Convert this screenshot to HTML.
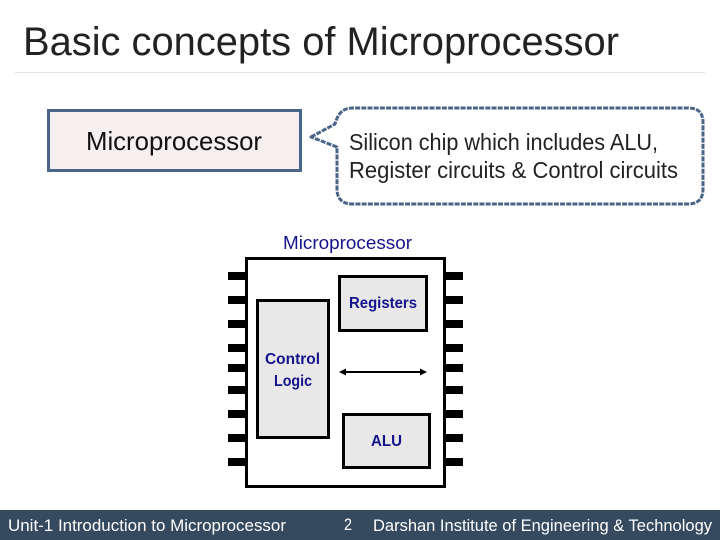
<!DOCTYPE html>
<html><head><meta charset="utf-8"><style>
html,body{margin:0;padding:0;background:#fff}
svg{display:block}
text{font-family:"Liberation Sans",sans-serif}
</style></head><body>
<svg width="720" height="540" viewBox="0 0 720 540" xmlns="http://www.w3.org/2000/svg">
<rect width="720" height="540" fill="#fff"/>
<text x="23" y="55" font-size="40" fill="#222" textLength="596" lengthAdjust="spacingAndGlyphs">Basic concepts of Microprocessor</text>
<line x1="15" y1="72.5" x2="705" y2="72.5" stroke="#e2e2e2" stroke-width="1"/>
<rect x="48.500" y="110.500" width="252" height="60" fill="#f5eff0" stroke="#4a6587" stroke-width="3"/>
<text x="86" y="150" font-size="26" fill="#111" textLength="176" lengthAdjust="spacingAndGlyphs">Microprocessor</text>
<path d="M311 137 L335 124 C338 114 342 108 353 108 L688 108 Q703 108 703 122 L703 189 Q703 204 688 204 L353 204 Q337 204 337 189 L337 147 Z" fill="#fff" stroke="#4a6587" stroke-width="3" stroke-dasharray="5 1.200" stroke-linejoin="round"/>
<text x="349" y="150" font-size="23" fill="#222" textLength="309" lengthAdjust="spacingAndGlyphs">Silicon chip which includes ALU,</text>
<text x="349" y="178" font-size="23" fill="#222" textLength="329" lengthAdjust="spacingAndGlyphs">Register circuits &amp; Control circuits</text>
<text x="283" y="249" font-size="18" fill="#14148c" textLength="129" lengthAdjust="spacingAndGlyphs">Microprocessor</text>
<g fill="#000">
<rect x="228" y="272" width="18" height="8"/><rect x="228" y="296" width="18" height="8"/><rect x="228" y="320" width="18" height="8"/><rect x="228" y="344" width="18" height="8"/><rect x="228" y="364" width="18" height="8"/><rect x="228" y="386" width="18" height="8"/><rect x="228" y="410" width="18" height="8"/><rect x="228" y="434" width="18" height="8"/><rect x="228" y="458" width="18" height="8"/>
<rect x="445" y="272" width="18" height="8"/><rect x="445" y="296" width="18" height="8"/><rect x="445" y="320" width="18" height="8"/><rect x="445" y="344" width="18" height="8"/><rect x="445" y="364" width="18" height="8"/><rect x="445" y="386" width="18" height="8"/><rect x="445" y="410" width="18" height="8"/><rect x="445" y="434" width="18" height="8"/><rect x="445" y="458" width="18" height="8"/>
</g>
<rect x="246.500" y="258.500" width="198" height="228" fill="#fff" stroke="#000" stroke-width="3"/>
<rect x="339.500" y="276.500" width="87" height="54" fill="#e8e8e8" stroke="#000" stroke-width="3"/>
<rect x="257.500" y="300.500" width="71" height="137" fill="#e8e8e8" stroke="#000" stroke-width="3"/>
<rect x="343.500" y="414.500" width="86" height="53" fill="#e8e8e8" stroke="#000" stroke-width="3"/>
<line x1="343" y1="372" x2="423" y2="372" stroke="#000" stroke-width="2"/>
<path d="M339 372 L346 368.500 L346 375.500 Z M427 372 L420 368.500 L420 375.500 Z" fill="#000"/>
<g font-size="16" fill="#14148c" font-weight="bold">
<text x="349" y="308" textLength="68" lengthAdjust="spacingAndGlyphs">Registers</text>
<text x="265" y="364" textLength="55" lengthAdjust="spacingAndGlyphs">Control</text>
<text x="274" y="386" textLength="38" lengthAdjust="spacingAndGlyphs">Logic</text>
<text x="371" y="446" textLength="31" lengthAdjust="spacingAndGlyphs">ALU</text>
</g>
<rect x="0" y="510" width="720" height="30" fill="#35495f"/>
<g font-size="17" fill="#fff">
<text x="8" y="531" textLength="278" lengthAdjust="spacingAndGlyphs">Unit-1 Introduction to Microprocessor</text>
<text x="344" y="530" textLength="8" lengthAdjust="spacingAndGlyphs">2</text>
<text x="373" y="531" textLength="339" lengthAdjust="spacingAndGlyphs">Darshan Institute of Engineering &amp; Technology</text>
</g>
</svg>
</body></html>
